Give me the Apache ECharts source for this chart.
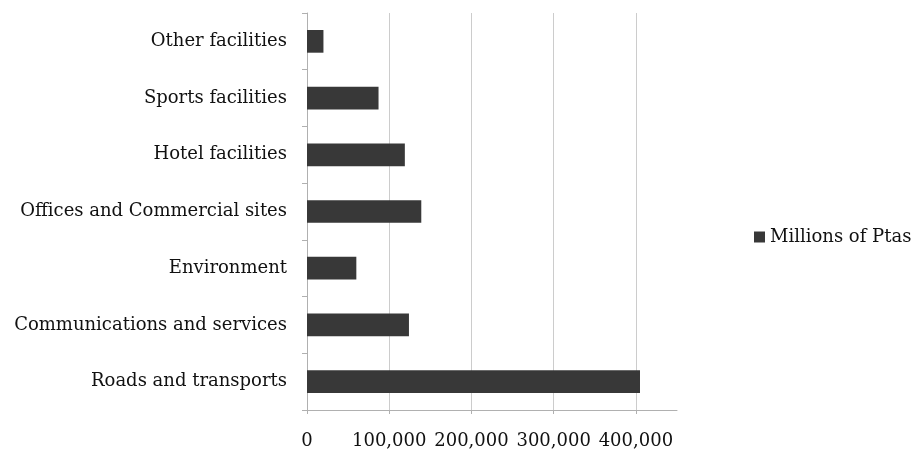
<!DOCTYPE html>
<html>
<head>
<meta charset="utf-8">
<script src="https://cdn.jsdelivr.net/npm/echarts@6/dist/echarts.min.js"></script>
<style>
html,body{margin:0;padding:0;background:#fff;}
#chart{width:913px;height:457px;}
</style>
</head>
<body>
<div id="chart"></div>
<script>
const categories = [
  "Other facilities",
  "Sports facilities",
  "Hotel facilities",
  "Offices and Commercial sites",
  "Environment",
  "Communications and services",
  "Roads and transports"
];
const seriesName = "Millions of Ptas";
const values = [20000, 87000, 119000, 139000, 60000, 124000, 405000];
const xTicks = [0, 100000, 200000, 300000, 400000];

const FONT = "DejaVu Serif";
const chart = echarts.init(document.getElementById('chart'), null, {renderer: 'canvas'});
chart.setOption({
  animation: false,
  backgroundColor: '#ffffff',
  grid: {left: 307, right: 236, top: 13, bottom: 47, containLabel: false},
  legend: {
    data: [seriesName],
    left: 749, top: 223,
    orient: 'vertical',
    icon: 'rect',
    itemWidth: 11, itemHeight: 11, itemGap: 6,
    textStyle: {fontFamily: FONT, fontSize: 18, color: '#111'}
  },
  xAxis: {
    type: 'value',
    min: 0, max: 450000, interval: 100000,
    axisLine: {show: true, lineStyle: {color: '#b0b0b0', width: 1}},
    axisTick: {show: true, length: 4, lineStyle: {color: '#b0b0b0'}},
    splitLine: {show: true, showMaxLine: false, lineStyle: {color: '#cccccc', width: 1}},
    axisLabel: {
      showMaxLabel: false,
      margin: 22,
      fontFamily: FONT, fontSize: 18, color: '#111',
      formatter: function (v) { return xTicks.indexOf(v) >= 0 ? v.toLocaleString('en-US') : ''; }
    }
  },
  yAxis: {
    type: 'category',
    data: categories,
    inverse: true,
    axisLine: {show: true, lineStyle: {color: '#b0b0b0', width: 1}},
    axisTick: {show: true, length: 5, alignWithLabel: false, lineStyle: {color: '#b0b0b0'}},
    axisLabel: {margin: 20, fontFamily: FONT, fontSize: 18, color: '#111'},
    splitLine: {show: false}
  },
  series: [{
    name: seriesName,
    type: 'bar',
    data: values,
    barWidth: '40%',
    itemStyle: {color: '#383838'}
  }]
});
</script>
</body>
</html>
